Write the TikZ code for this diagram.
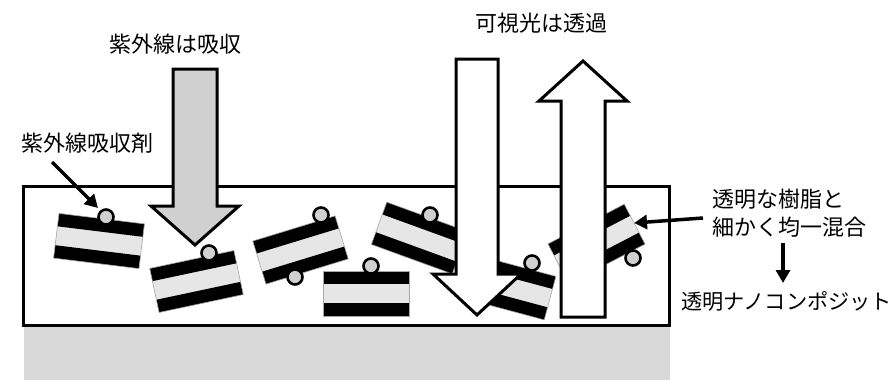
\documentclass[tikz,border=0pt]{standalone}
\usepackage{fontspec}
\setmainfont{Noto Sans CJK JP}
\usetikzlibrary{arrows.meta}
\definecolor{basegray}{HTML}{D9D9D9}
\definecolor{beadgray}{HTML}{D0D0D0}
\definecolor{midgray}{HTML}{E6E6E6}

\tikzset{
  lbl/.style={font=\fontsize{22}{26}\selectfont, inner sep=0pt},
  ptr/.style={line width=3.5pt, -{Triangle[length=13pt,width=14pt]}},
  bigarrow/.style={draw=black, line width=3pt, line join=miter},
  bead/.style={circle, draw=black, line width=2.6pt, fill=beadgray,
               minimum size=15pt, inner sep=0pt},
}

% absorber flake: black / light gray / black layers, centred at (#1,#2), turned by #3
\newcommand\flake[3]{%
  \begin{scope}[shift={(#1,#2)}, rotate=#3]
    \fill[midgray] (-43,-22.5) rectangle (43,22.5);
    \fill[black] (-43,-22.5) rectangle (43,-9.5);
    \fill[black] (-43,9.5) rectangle (43,22.5);
    \draw[gray!70, line width=0.6pt] (-43,-22.5) rectangle (43,22.5);
  \end{scope}}

\begin{document}
\begin{tikzpicture}[x=1pt, y=-1pt]
  \useasboundingbox (0,0) rectangle (896,380);

  % substrate and resin layer
  \fill[basegray] (24,320) rectangle (670,380);
  \draw[line width=3pt, fill=white] (23,186) rectangle (669,325);

  % flakes with their absorber beads
  \flake{99}{241}{-7}
  \node[bead] (b1) at (106,217) {};
  \flake{196.5}{281.5}{12}
  \node[bead] (b2) at (209,253) {};
  \flake{300.5}{250}{17}
  \node[bead] (b3) at (321,215) {};
  \node[bead] (b4) at (295,277) {};
  \flake{366}{293.5}{0}
  \node[bead] (b5) at (371,266) {};
  \flake{419.5}{238}{-20}
  \node[bead] (b6) at (430,215) {};
  \flake{508.5}{287}{-15}
  \node[bead] (b7) at (532,263) {};
  \flake{596.5}{244}{27.5}
  \node[bead] (b8) at (633,258) {};

  % ultraviolet light, absorbed
  \draw[bigarrow, fill=beadgray]
    (173,69) -- (217,69) -- (217,206) -- (239,206) -- (195,245)
    -- (151,206) -- (173,206) -- cycle;
  % visible light going in
  \draw[bigarrow, fill=white]
    (456,59) -- (498,59) -- (498,274) -- (521,274) -- (477,315)
    -- (433,274) -- (456,274) -- cycle;
  % visible light coming back out
  \draw[bigarrow, fill=white]
    (561,317) -- (605,317) -- (605,101) -- (627,101) -- (583,61)
    -- (539,101) -- (561,101) -- cycle;

  % labels
  \node[lbl] (uv) at (175.5,44) {紫外線は吸収};
  \node[lbl] (vis) at (541,23) {可視光は透過};
  \node[lbl] (abs) at (87,143) {紫外線吸収剤};
  \node[lbl, anchor=west] (mix1) at (712,199) {透明な樹脂と};
  \node[lbl, anchor=west] (mix2) at (712,227.5) {細かく均一混合};
  \node[lbl, anchor=west, font=\fontsize{21.2}{26}\selectfont]
    (nano) at (681,301) {透明ナノコンポジット};

  % pointers
  \coordinate (absfrom) at (52,162);
  \coordinate (absto) at (98,208);
  \draw[ptr] (absfrom) -- (absto);
  \coordinate (mixfrom) at (703,218);
  \coordinate (mixto) at (634,223);
  \draw[ptr] (mixfrom) -- (mixto);
  \coordinate (resfrom) at (783,243);
  \coordinate (resto) at (783,283);
  \draw[ptr] (resfrom) -- (resto);
\end{tikzpicture}
\end{document}
